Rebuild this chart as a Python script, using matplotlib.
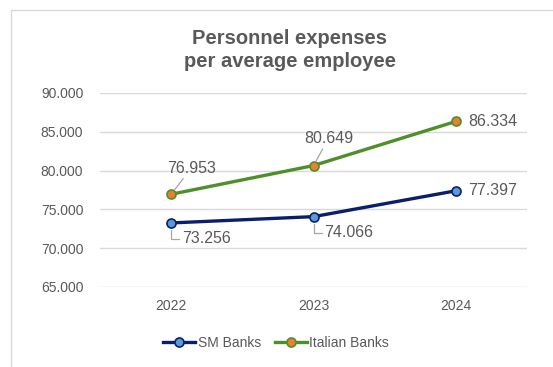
import matplotlib
matplotlib.use("Agg")
import matplotlib.pyplot as plt
import matplotlib.patches as mpatches

years = ["2022", "2023", "2024"]
sm_banks = [73256, 74066, 77397]
italian_banks = [76953, 80649, 86334]
y_ticks = [65000, 70000, 75000, 80000, 85000, 90000]


def fmt(v):
    # thousands separator as a dot
    return f"{v:,}".replace(",", ".")


plt.rcParams['font.family'] = ['Liberation Sans', 'DejaVu Sans']
grey_txt = '#595959'
grid_col = '#D9D9D9'
lead_col = '#A6A6A6'

fig = plt.figure(figsize=(5.53, 3.67), dpi=100)
W, H = 553.0, 367.0
axes = fig.add_axes([100 / W, 1 - 287 / H, 427 / W, 194 / H])

# chart frame
frame = mpatches.Rectangle((11 / W, -0.1), 1.0, 1 - 10 / H + 0.1, transform=fig.transFigure,
                           fill=False, edgecolor=grid_col, linewidth=1.0)
fig.patches.append(frame)

x = list(range(len(years)))
axes.plot(x, sm_banks, color='#0A1F6B', linewidth=2.4, marker='o', markersize=6.5,
          markerfacecolor='#5B9BD5', markeredgecolor='#0A1F6B', markeredgewidth=1.2,
          label='SM Banks', zorder=3)
axes.plot(x, italian_banks, color='#4E8F2A', linewidth=2.4, marker='o', markersize=6.5,
          markerfacecolor='#ED7D31', markeredgecolor='#4E8F2A', markeredgewidth=1.2,
          label='Italian Banks', zorder=3)

axes.set_xlim(-0.5, 2.5)
axes.set_ylim(65000, 90000)
axes.set_yticks(y_ticks)
axes.set_yticklabels([fmt(v) for v in y_ticks])
axes.set_xticks(x)
axes.set_xticklabels(years)
axes.grid(axis='y', color=grid_col, linewidth=1.0)
axes.set_axisbelow(True)
for s in axes.spines.values():
    s.set_visible(False)
axes.tick_params(length=0, colors=grey_txt, labelsize=10)
axes.tick_params(axis='y', pad=12)
axes.tick_params(axis='x', pad=9)

lab = dict(fontsize=11.5, color=grey_txt, textcoords='offset pixels', va='center')
line_plain = dict(arrowstyle='-', color=lead_col, lw=0.9, shrinkA=0, shrinkB=4)
line_bracket = dict(arrowstyle='-', color=lead_col, lw=0.9, shrinkA=2, shrinkB=5,
                    patchA=None, relpos=(0, 0.5),
                    connectionstyle='angle,angleA=0,angleB=90,rad=0')

# Italian banks labels
axes.annotate(fmt(italian_banks[0]), (0, italian_banks[0]), xytext=(20, 26), ha='center',
              arrowprops=line_plain, **lab)
axes.annotate(fmt(italian_banks[1]), (1, italian_banks[1]), xytext=(15, 27), ha='center',
              arrowprops=line_plain, **lab)
axes.annotate(fmt(italian_banks[2]), (2, italian_banks[2]), xytext=(12, 0), ha='left', **lab)

# SM banks labels
axes.annotate(fmt(sm_banks[0]), (0, sm_banks[0]), xytext=(11, -16), ha='left',
              arrowprops=line_bracket, **lab)
axes.annotate(fmt(sm_banks[1]), (1, sm_banks[1]), xytext=(11, -16), ha='left',
              arrowprops=line_bracket, **lab)
axes.annotate(fmt(sm_banks[2]), (2, sm_banks[2]), xytext=(12, 0), ha='left', **lab)

fig.text(290 / W, 1 - 50 / H, "Personnel expenses\nper average employee", ha='center', va='center',
         fontsize=14.5, fontweight='bold', color=grey_txt, linespacing=1.3)

fig.legend(loc='center', bbox_to_anchor=(276 / W, 1 - 343 / H), ncol=2, frameon=False,
           fontsize=10, labelcolor=grey_txt, handlelength=2.3, handletextpad=0.2,
           columnspacing=1.0)

fig.savefig("out.png", dpi=100)
